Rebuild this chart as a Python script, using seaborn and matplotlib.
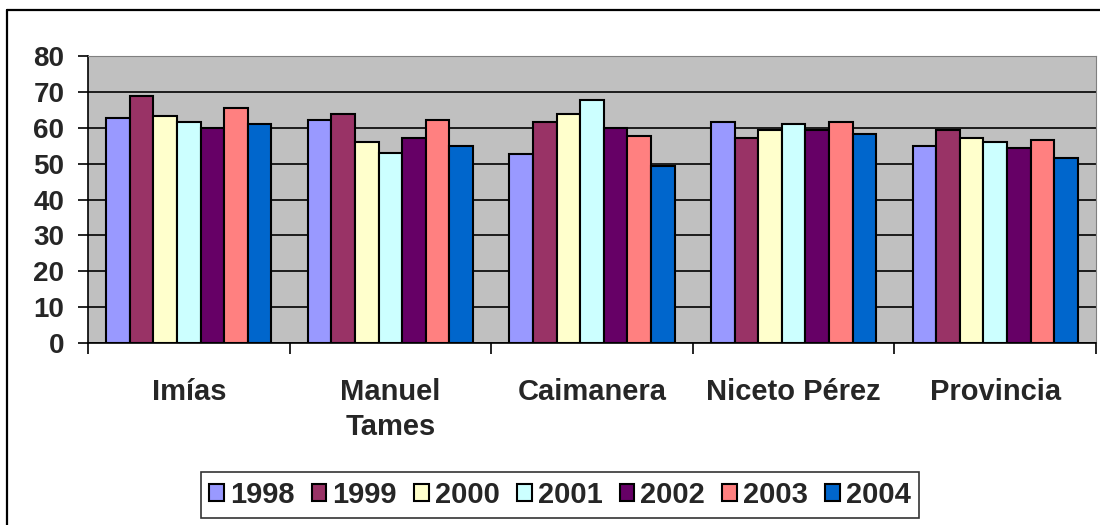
# bar chart: values per municipality and year

import pandas as pd
import matplotlib.pyplot as plt
import seaborn as sns
from matplotlib.lines import Line2D

municipios = ["Imías", "Manuel\nTames", "Caimanera", "Niceto Pérez", "Provincia"]
anios = ["1998", "1999", "2000", "2001", "2002", "2003", "2004"]

v1998 = [62.6, 62.2, 52.6, 61.7, 54.9]
v1999 = [68.9, 63.8, 61.6, 57.2, 59.4]
v2000 = [63.3, 55.9, 63.8, 59.4, 57.1]
v2001 = [61.7, 53.1, 67.8, 61.0, 56.0]
v2002 = [60.0, 57.1, 59.8, 59.5, 54.4]
v2003 = [65.5, 62.2, 57.7, 61.7, 56.7]
v2004 = [61.0, 54.9, 49.2, 58.2, 51.5]

colores = ["#9999FF", "#993366", "#FFFFCC", "#CCFFFF", "#660066", "#FF8080", "#0066CC"]

series = [v1998, v1999, v2000, v2001, v2002, v2003, v2004]
rows = []
for anio, vals in zip(anios, series):
    for m, v in zip(municipios, vals):
        rows.append({"municipio": m, "anio": anio, "valor": v})
df = pd.DataFrame(rows)

sns.set_style("white")
plt.rcParams["font.family"] = ["Liberation Sans", "DejaVu Sans"]
plt.rcParams["font.weight"] = "bold"

W, H = 1100, 525
fig = plt.figure(figsize=(11, 5.25), dpi=100)
ax = fig.add_axes([88 / W, 1 - 343 / H, (1096 - 88) / W, (343 - 56) / H])

sns.barplot(data=df, x="municipio", y="valor", hue="anio", order=municipios,
            hue_order=anios, palette=colores, saturation=1, width=0.82,
            edgecolor="black", linewidth=1.5, ax=ax)

ax.set_facecolor("#C0C0C0")
ax.set_ylim(0, 80)
ax.set_xlim(-0.5, 4.5)
ax.set_yticks(range(0, 81, 10))
ax.yaxis.grid(True, color="black", linewidth=1.2)
ax.set_axisbelow(True)
ax.set_xlabel("")
ax.set_ylabel("")

ax.set_xticks([i - 0.5 for i in range(6)], minor=True)
ax.tick_params(axis="x", which="major", length=0, pad=25, labelsize=21)
ax.tick_params(axis="x", which="minor", length=8, width=1.2, color="black", direction="out")
ax.tick_params(axis="y", length=7, width=1.2, color="black", direction="out", labelsize=20, pad=10)
ax.tick_params(bottom=True, left=True, which="both")
for lbl in ax.get_xticklabels():
    lbl.set_fontweight("bold")
    lbl.set_linespacing(1.35)
for lbl in ax.get_yticklabels():
    lbl.set_fontweight("bold")

ax.spines["left"].set_color("black")
ax.spines["bottom"].set_color("black")
ax.spines["left"].set_linewidth(1.2)
ax.spines["bottom"].set_linewidth(1.2)
ax.spines["top"].set_color("#808080")
ax.spines["right"].set_color("#808080")

handles, labels = ax.get_legend_handles_labels()
ax.get_legend().remove()
leg = fig.legend(handles, labels, loc="center", bbox_to_anchor=(560 / W, 1 - 495 / H),
                 ncol=7, frameon=True, fancybox=False, edgecolor="black",
                 handlelength=0.5, handleheight=0.5, handletextpad=0.2,
                 columnspacing=0.6, borderpad=0.3, borderaxespad=0,
                 prop={"weight": "bold", "size": 21})
leg.get_frame().set_linewidth(1.2)

# chart border (only left and top edges are visible in the crop)
fig.add_artist(Line2D([7 / W, 7 / W], [0, 1 - 10 / H], color="black", linewidth=1.6))
fig.add_artist(Line2D([7 / W, 1], [1 - 10 / H, 1 - 10 / H], color="black", linewidth=1.6))

plt.savefig("out.png", dpi=100)
